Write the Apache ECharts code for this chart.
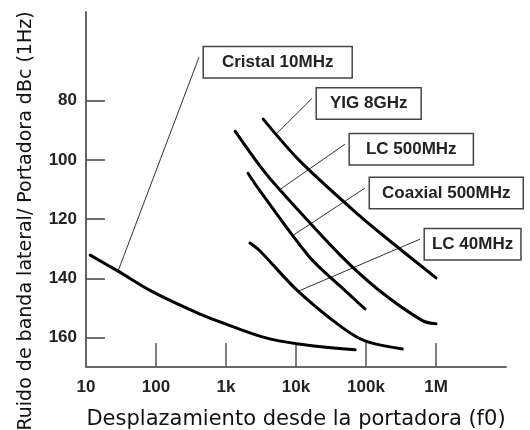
<!DOCTYPE html>
<html>
<head>
<meta charset="utf-8">
<script src="https://cdn.jsdelivr.net/npm/echarts@6/dist/echarts.min.js"></script>
<style>html,body{margin:0;padding:0;background:#fff}#c{width:530px;height:430px}</style>
</head>
<body>
<div id="c"></div>
<script>
// ---- data ----
const xTickValues = [10, 100, 1000, 10000, 100000, 1000000];
const xTickLabels = ['10', '100', '1k', '10k', '100k', '1M'];
const yTickValues = [80, 100, 120, 140, 160];

const seriesNames = ['Cristal 10MHz', 'YIG 8GHz', 'LC 500MHz', 'Coaxial 500MHz', 'LC 40MHz'];

const crystalF  = [11.5, 28.7, 90, 425, 1000, 3400, 10700, 70000];
const crystalDb = [132.2, 137.6, 144.6, 152.1, 155.5, 159.9, 162.2, 164.2];

const yigF  = [3400, 11400, 82000, 220000, 1000000];
const yigDb = [86.2, 100.4, 119.0, 127.4, 139.9];

const lc500F  = [1350, 3060, 5900, 42500, 158000, 650000, 1000000];
const lc500Db = [90.3, 102.1, 110.2, 132.1, 144.3, 154.4, 155.4];

const coaxF  = [2060, 3060, 15800, 42500, 96800];
const coaxDb = [104.5, 110.5, 133.0, 142.6, 150.4];

const lc40F  = [2200, 3060, 10300, 42500, 96800, 330000];
const lc40Db = [128.1, 130.8, 144.0, 156.1, 161.2, 163.9];

// leader lines: from point on curve to label anchor (data coordinates)
const leaderFromF  = [28.7, 5350, 5900, 9060, 10700];
const leaderFromDb = [137.6, 91.0, 110.0, 125.5, 144.4];
const leaderToF    = [411, 16900, 50000, 96800, 590000];
const leaderToDb   = [65.3, 79.2, 94.7, 109.5, 126.8];

// ---- chart ----
const curves = [
  [crystalF, crystalDb], [yigF, yigDb], [lc500F, lc500Db], [coaxF, coaxDb], [lc40F, lc40Db]
];
const labelPadX = [18, 13, 16, 12, 7];

const series = [];
curves.forEach((c, i) => {
  series.push({
    name: seriesNames[i],
    type: 'line',
    data: c[0].map((f, k) => [f, c[1][k]]),
    smooth: 0.3,
    showSymbol: false,
    symbol: 'none',
    lineStyle: { color: '#000', width: 3, cap: 'round' },
    z: 3
  });
});
seriesNames.forEach((n, i) => {
  series.push({
    name: n + ' leader',
    type: 'line',
    data: [
      { value: [leaderFromF[i], leaderFromDb[i]], symbol: 'none' },
      { value: [leaderToF[i], leaderToDb[i]],
        label: {
          show: true, position: 'right', distance: 5, offset: [0, 5],
          formatter: n,
          fontFamily: 'Liberation Sans', fontWeight: 'bold', fontSize: 17, color: '#222',
          backgroundColor: '#fff', borderColor: '#444', borderWidth: 1.5,
          padding: [6, labelPadX[i], 5, labelPadX[i]], lineHeight: 19
        } }
    ],
    symbol: 'circle', symbolSize: 0, showSymbol: true,
    lineStyle: { color: '#333', width: 1 },
    itemStyle: { color: '#333' },
    z: 2
  });
});

const chart = echarts.init(document.getElementById('c'), null, { renderer: 'canvas' });
chart.setOption({
  animation: false,
  backgroundColor: '#fff',
  grid: { left: 86, right: 24, top: 12, bottom: 63, containLabel: false, outerBoundsMode: 'none' },
  xAxis: {
    type: 'log', logBase: 10, min: 10, max: 10000000,
    position: 'bottom',
    name: 'Desplazamiento desde la portadora (f0)',
    nameLocation: 'middle', nameGap: 42,
    nameTextStyle: { fontFamily: 'DejaVu Sans', fontSize: 21, color: '#111' },
    axisLine: { onZero: false, lineStyle: { color: '#666', width: 2 } },
    axisTick: { show: true, inside: true, length: 24, customValues: xTickValues.slice(1),
                lineStyle: { color: '#555', width: 1.5 } },
    axisLabel: {
      customValues: xTickValues,
      formatter: v => { const k = xTickValues.findIndex(t => Math.abs(Math.log10(t) - Math.log10(v)) < 1e-6); return k >= 0 ? xTickLabels[k] : ''; },
      fontFamily: 'Liberation Sans', fontWeight: 'bold', fontSize: 17, color: '#222', margin: 12
    },
    splitLine: { show: false }, minorTick: { show: false }
  },
  yAxis: {
    type: 'value', inverse: true, min: 50, max: 170, interval: 10,
    name: 'Ruido de banda lateral/ Portadora dBc (1Hz)',
    nameLocation: 'middle', nameGap: 50,
    nameTextStyle: { fontFamily: 'DejaVu Sans', fontSize: 19, color: '#111', padding: [0, 63, 0, 0] },
    axisLine: { show: true, lineStyle: { color: '#666', width: 2 } },
    axisTick: { show: true, inside: true, length: 19, customValues: yTickValues,
                lineStyle: { color: '#444', width: 1.5 } },
    axisLabel: {
      customValues: yTickValues,
      fontFamily: 'Liberation Sans', fontWeight: 'bold', fontSize: 17, color: '#222', margin: 9
    },
    splitLine: { show: false }
  },
  series: series
});
</script>
</body>
</html>
